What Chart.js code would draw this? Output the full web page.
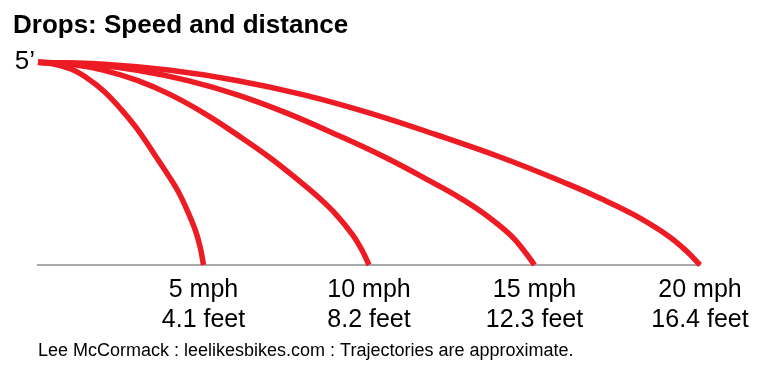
<!DOCTYPE html>
<html>
<head>
<meta charset="utf-8">
<script src="https://cdn.jsdelivr.net/npm/chart.js@4"></script>
<style>
  html, body { margin: 0; padding: 0; background: #fff; }
  #wrap { width: 768px; height: 375px; position: relative; }
</style>
</head>
<body>
<div id="wrap"><canvas id="drops-chart"></canvas></div>
<script>
// landing distances (feet) and speeds
const speeds = ['5 mph', '10 mph', '15 mph', '20 mph'];
const distances = [4.1, 8.2, 12.3, 16.4];
const dropHeight = 5;

// trajectories (x = feet forward, y = feet high)
const traj5x = [0, 0.41, 0.82, 1.23, 1.64, 2.05, 2.46, 2.87, 3.28, 3.49, 3.69, 3.9, 4.02, 4.1];
const traj5y = [5, 4.95, 4.83, 4.6, 4.28, 3.85, 3.35, 2.75, 2.13, 1.78, 1.36, 0.85, 0.43, 0];

const traj10x = [0, 0.82, 1.64, 2.46, 3.28, 4.1, 4.92, 5.74, 6.56, 6.97, 7.38, 7.79, 8.04, 8.2];
const traj10y = [5, 4.95, 4.8, 4.55, 4.2, 3.75, 3.22, 2.65, 2.0, 1.65, 1.25, 0.75, 0.34, 0];

const traj15x = [0, 1.23, 2.46, 3.69, 4.92, 6.15, 7.38, 8.61, 9.84, 10.46, 11.07, 11.69, 12.05, 12.3];
const traj15y = [5, 4.95, 4.8, 4.55, 4.2, 3.75, 3.22, 2.65, 2.0, 1.65, 1.25, 0.75, 0.34, 0];

const traj20x = [0, 1.64, 3.28, 4.92, 6.56, 8.2, 9.84, 11.48, 13.12, 13.94, 14.76, 15.58, 16.07, 16.4];
const traj20y = [5, 4.95, 4.8, 4.55, 4.2, 3.75, 3.22, 2.65, 2.0, 1.64, 1.24, 0.74, 0.34, 0];

const footer = 'Lee McCormack : leelikesbikes.com : Trajectories are approximate.';

(function(){
    Chart.defaults.color = '#000';
    Chart.defaults.font.family = '"Liberation Sans", Arial, sans-serif';

    const toPoints = (xs, ys) => xs.map((x, i) => ({x: x, y: ys[i]}));
    const trajectories = [
        toPoints(traj5x, traj5y),
        toPoints(traj10x, traj10y),
        toPoints(traj15x, traj15y),
        toPoints(traj20x, traj20y)
    ];

    const ctx = document.getElementById('drops-chart');

    new Chart(ctx, {
        type: 'scatter',
        data: {
            datasets: trajectories.map((pts, i) => ({
                label: speeds[i],
                data: pts,
                showLine: true,
                borderColor: '#ed1c24',
                borderWidth: 5.5,
                borderCapStyle: 'butt',
                tension: 0.4,
                pointRadius: 0,
                pointHoverRadius: 0,
                clip: false
            }))
        },
        options: {
            responsive: true,
            maintainAspectRatio: false,
            animation: false,
            layout: {
                padding: {left: 13, right: 68, top: 0, bottom: 13}
            },
            scales: {
                x: {
                    type: 'linear',
                    min: 0,
                    max: distances[distances.length - 1],
                    grid: { display: false, drawTicks: false },
                    border: { display: true, color: '#aaaaaa', width: 2 },
                    afterBuildTicks: scale => {
                        scale.ticks = distances.map(v => ({value: v}));
                    },
                    afterFit: scale => {
                        scale.height = 97;
                    },
                    ticks: {
                        autoSkip: false,
                        maxRotation: 0,
                        padding: 10,
                        font: { size: 25, lineHeight: 1.2 },
                        callback: (value, index) => [speeds[index], distances[index] + ' feet']
                    },
                    title: {
                        display: true,
                        text: footer,
                        align: 'start',
                        font: { size: 18, lineHeight: 1.2 },
                        padding: { top: 0, bottom: 0 }
                    }
                },
                y: {
                    type: 'linear',
                    min: 0,
                    max: dropHeight,
                    grid: { display: false, drawTicks: false },
                    border: { display: false },
                    afterBuildTicks: scale => {
                        scale.ticks = [{value: dropHeight}];
                    },
                    afterFit: scale => {
                        scale.width = 25;
                    },
                    ticks: {
                        padding: 3,
                        font: { size: 26 },
                        callback: value => value + '\u2019'
                    }
                }
            },
            plugins: {
                legend: { display: false },
                tooltip: { enabled: false },
                title: {
                    display: true,
                    text: 'Drops: Speed and distance',
                    align: 'start',
                    font: { size: 26, weight: 'bold', lineHeight: 1.2 },
                    padding: { top: 10, bottom: 21 }
                }
            }
        }
    });
})();
</script>
</body>
</html>
